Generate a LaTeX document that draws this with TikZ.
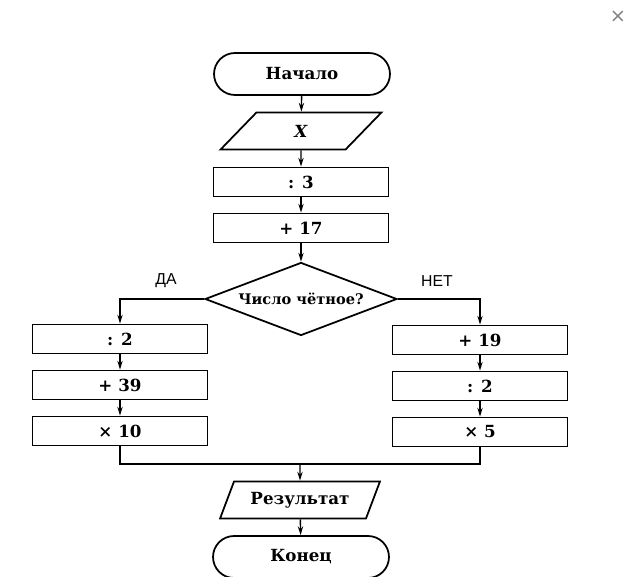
\documentclass[tikz,border=0pt]{standalone}
\usepackage{fontspec}
\setmainfont{DejaVu Serif}
\newfontfamily\labelfont{Liberation Sans}
\newfontfamily\iconfont{DejaVu Sans}
\usetikzlibrary{shapes.geometric,arrows.meta}

\begin{document}
\begin{tikzpicture}[x=0.02cm,y=-0.02cm,
    every node/.style={font=\fontsize{9.5}{11}\selectfont\bfseries},
    term/.style={draw,line width=1pt,rectangle,rounded corners=0.42cm,minimum width=3.52cm,minimum height=0.84cm},
    proc/.style={draw,line width=1pt,rectangle,minimum width=3.5cm,minimum height=0.58cm},
    io/.style={draw,line width=1pt,trapezium,trapezium left angle=67,trapezium right angle=113,
      trapezium stretches=true,minimum width=3.22cm,minimum height=0.74cm},
    cond/.style={draw,line width=1pt,diamond,aspect=2.6,minimum width=3.84cm,minimum height=1.46cm,inner sep=0pt,
      font=\fontsize{8.3}{10}\selectfont\bfseries},
    flow/.style={line width=0.8pt,-{Stealth[length=5pt,width=3pt]}},
    wire/.style={line width=0.8pt},
    branch/.style={font=\labelfont\fontsize{9}{11}\selectfont}]
      \useasboundingbox (0,0) rectangle (625,577);

      % main line
      \node[term] (start) at (302,74) {Начало};
      \node[io] (input) at (301,131) {\textit{X}};
      \node[proc] (div3) at (301,182) {: 3};
      \node[proc] (add17) at (301,228) {+ 17};
      \node[cond] (check) at (301,299) {Число чётное?};

      % left branch
      \node[proc] (ldiv2) at (120,339) {: 2};
      \node[proc] (ladd39) at (120,385) {+ 39};
      \node[proc] (lmul10) at (120,431) {× 10};

      % right branch
      \node[proc] (radd19) at (480,340) {+ 19};
      \node[proc] (rdiv2) at (480,386) {: 2};
      \node[proc] (rmul5) at (480,432) {× 5};

      \coordinate (join) at (300,464);
      \node[io] (result) at (300,500) {Результат};
      \node[term] (stop) at (301,557) {Конец};

      \node[branch] (yes) at (166,281) {ДА};
      \node[branch] (no) at (437,281) {НЕТ};
      \node[font=\iconfont\fontsize{11}{11}\selectfont,text=gray] (close) at (618,17) {×};

      \draw[flow] (start) -- (input);
      \draw[flow] (input) -- (div3);
      \draw[flow] (div3) -- (add17);
      \draw[flow] (add17) -- (check);
      \draw[flow] (check.west) -| (ldiv2);
      \draw[flow] (check.east) -| (radd19);
      \draw[flow] (ldiv2) -- (ladd39);
      \draw[flow] (ladd39) -- (lmul10);
      \draw[flow] (radd19) -- (rdiv2);
      \draw[flow] (rdiv2) -- (rmul5);
      \draw[wire] (lmul10.south) |- (join) -| (rmul5.south);
      \draw[flow] (join) -- (result);
      \draw[flow] (result) -- (stop);
\end{tikzpicture}
\end{document}
